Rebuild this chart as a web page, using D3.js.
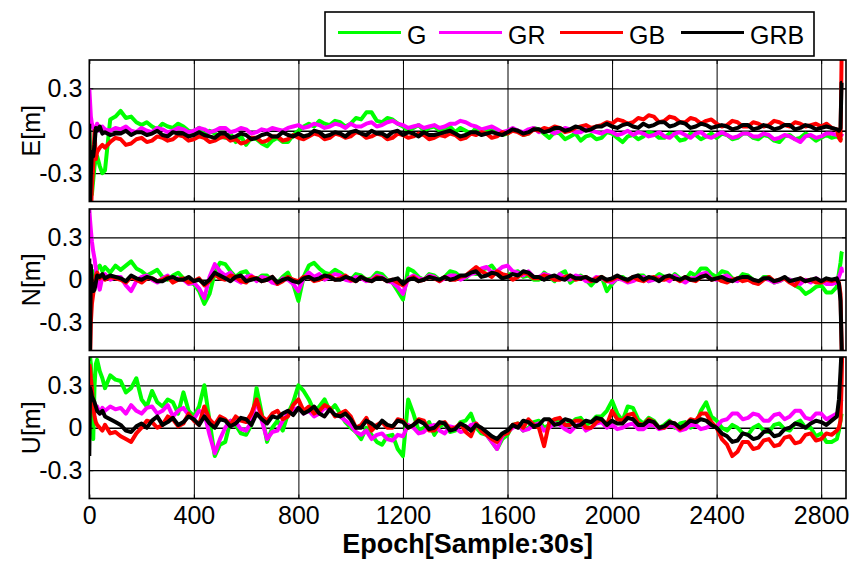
<!DOCTYPE html>
<html>
<head>
<meta charset="utf-8">
<script src="https://cdn.jsdelivr.net/npm/d3@7"></script>
<style>
  body { margin: 0; background: #fff; }
  svg { font-family: Arial, "Liberation Sans", sans-serif; }
</style>
</head>
<body>
<svg id="chart" width="853" height="566"></svg>
<script>
// epoch of every sample (denser at the start / end where it jumps)
const EPOCHS = [0, 3, 6, 10, 15, 20, 25, 30, 40, 50, 60, 80, 100,
  120, 140, 160, 180, 200, 220, 240, 260, 280, 300, 320, 340, 360, 380, 400, 420, 440, 460, 480, 500,
  520, 540, 560, 580, 600, 620, 640, 660, 680, 700, 720, 740, 760, 780, 800, 820, 840, 860, 880, 900,
  920, 940, 960, 980, 1000, 1020, 1040, 1060, 1080, 1100, 1120, 1140, 1160, 1180, 1200, 1220, 1240, 1260, 1280, 1300,
  1320, 1340, 1360, 1380, 1400, 1420, 1440, 1460, 1480, 1500, 1520, 1540, 1560, 1580, 1600, 1620, 1640, 1660, 1680, 1700,
  1720, 1740, 1760, 1780, 1800, 1820, 1840, 1860, 1880, 1900, 1920, 1940, 1960, 1980, 2000, 2020, 2040, 2060, 2080, 2100,
  2120, 2140, 2160, 2180, 2200, 2220, 2240, 2260, 2280, 2300, 2320, 2340, 2360, 2380, 2400, 2420, 2440, 2460, 2480, 2500,
  2520, 2540, 2560, 2580, 2600, 2620, 2640, 2660, 2680, 2700, 2720, 2740, 2760, 2780, 2800, 2820, 2840, 2860,
  2868, 2874, 2878, 2880];

const SERIES = ["G", "GR", "GB", "GRB"];
const COLORS = { G: "#00ff00", GR: "#ff00ff", GB: "#ff0000", GRB: "#000000" };

const X_TICKS = [0, 400, 800, 1200, 1600, 2000, 2400, 2800];
const Y_TICKS = [-0.3, 0, 0.3];
const X_TITLE = "Epoch[Sample:30s]";

// ---- East ----
const E_G = [0.0, -0.2, -0.4, -0.45, -0.35, -0.25, -0.2, -0.18, -0.25, -0.3, -0.28, 0.08, 0.1,
  0.14, 0.09, 0.1, 0.06, 0.04, 0.06, 0.03, 0.01, 0.05, 0.03, 0.02, 0.05, 0.03, 0.0, -0.01, 0.02, -0.03, 0.0, -0.02, -0.04,
  -0.05, -0.02, -0.08, -0.04, -0.1, -0.05, -0.06, -0.09, -0.11, -0.07, -0.05, -0.08, -0.08, -0.03, 0.0, 0.03, 0.05, 0.03, 0.07, 0.05,
  0.04, 0.07, 0.06, 0.03, 0.05, 0.09, 0.08, 0.13, 0.13, 0.07, 0.06, 0.09, 0.08, 0.05, 0.03, 0.0, 0.02, 0.04, 0.0, 0.02,
  0.03, 0.0, 0.01, 0.03, -0.01, 0.02, 0.0, -0.02, 0.02, 0.0, -0.01, 0.02, 0.0, -0.03, -0.02, 0.01, 0.0, -0.03, -0.02, 0.02,
  0.01, -0.02, -0.05, -0.01, -0.02, -0.06, -0.04, -0.02, -0.07, -0.04, -0.03, -0.06, -0.05, -0.01, -0.02, -0.05, -0.08, -0.04, -0.03, -0.06,
  -0.04, -0.01, -0.02, -0.05, -0.05, -0.02, -0.03, -0.07, -0.06, -0.02, -0.03, -0.06, -0.04, -0.02, -0.05, -0.02, -0.03, -0.06, -0.05, -0.02,
  -0.02, -0.05, -0.06, -0.03, -0.04, -0.07, -0.08, -0.04, -0.03, -0.06, -0.05, -0.02, -0.04, -0.07, -0.05, -0.03, -0.05, -0.04,
  -0.05, -0.06, -0.05, -0.05];
const E_GR = [0.3, 0.2, 0.1, 0.05, 0.02, 0.0, 0.02, 0.05, 0.0, 0.03, 0.01, 0.0, 0.02,
  0.01, 0.03, 0.0, -0.01, 0.02, 0.0, -0.01, 0.02, 0.01, -0.01, 0.0, 0.02, 0.01, -0.01, 0.0, 0.02, 0.01, -0.01, 0.0, 0.02,
  0.02, -0.01, 0.0, 0.02, 0.01, -0.02, -0.01, 0.01, 0.0, 0.02, 0.01, 0.0, 0.02, 0.03, 0.04, 0.02, 0.03, 0.05, 0.04, 0.02,
  0.03, 0.05, 0.04, 0.02, 0.05, 0.03, 0.03, 0.05, 0.06, 0.03, 0.04, 0.06, 0.07, 0.05, 0.04, 0.02, 0.03, 0.04, 0.02, 0.03,
  0.04, 0.02, 0.03, 0.05, 0.05, 0.07, 0.06, 0.04, 0.03, 0.01, 0.02, 0.03, 0.01, -0.01, 0.0, 0.02, 0.0, -0.01, 0.01, 0.02,
  -0.01, 0.01, 0.0, -0.02, 0.0, 0.02, 0.01, -0.01, -0.01, 0.01, 0.0, -0.01, -0.02, 0.0, -0.01, -0.03, -0.02, 0.0, -0.03, -0.01,
  -0.02, -0.04, -0.03, -0.01, -0.04, -0.05, -0.02, -0.01, -0.03, -0.05, -0.02, -0.01, -0.04, -0.05, -0.03, -0.01, -0.03, -0.05, -0.04, -0.02,
  -0.02, -0.04, -0.04, -0.02, -0.03, -0.06, -0.05, -0.03, -0.04, -0.06, -0.08, -0.04, -0.03, -0.05, -0.04, -0.02, -0.02, -0.03,
  -0.02, -0.03, -0.03, -0.02];
const E_GB = [-0.1, -0.5, -0.6, -0.4, -0.25, 0.0, -0.2, -0.15, -0.12, -0.1, -0.12, -0.08, -0.05,
  -0.06, -0.1, -0.09, -0.06, -0.05, -0.08, -0.07, -0.04, -0.05, -0.07, -0.06, -0.03, -0.04, -0.07, -0.06, -0.04, -0.05, -0.08, -0.07, -0.05,
  -0.04, -0.07, -0.06, -0.09, -0.08, -0.05, -0.05, -0.08, -0.07, -0.04, -0.04, -0.07, -0.06, -0.03, -0.05, -0.06, -0.04, -0.02, -0.03, -0.06,
  -0.05, -0.02, -0.03, -0.05, -0.04, -0.01, -0.02, -0.05, -0.04, -0.02, -0.03, -0.06, -0.05, -0.02, -0.03, -0.05, -0.04, -0.02, -0.03, -0.06,
  -0.05, -0.03, -0.04, -0.02, -0.03, -0.06, -0.05, -0.02, -0.03, -0.01, -0.02, -0.05, -0.04, -0.01, -0.02, 0.0, -0.01, -0.03, -0.02, 0.01,
  0.0, 0.02, 0.01, 0.03, 0.02, -0.01, 0.0, 0.02, 0.03, 0.04, 0.02, 0.03, 0.04, 0.06, 0.05, 0.08, 0.07, 0.05, 0.06, 0.09,
  0.08, 0.11, 0.1, 0.06, 0.07, 0.1, 0.09, 0.06, 0.06, 0.09, 0.08, 0.05, 0.07, 0.08, 0.05, 0.03, 0.04, 0.07, 0.06, 0.03,
  0.03, 0.06, 0.05, 0.03, 0.04, 0.07, 0.06, 0.04, 0.03, 0.06, 0.05, 0.03, 0.04, 0.05, 0.03, 0.05, 0.02, 0.01,
  -0.05, -0.07, 0.5, 0.6];
const E_GRB = [0.05, -0.5, -0.3, -0.15, -0.18, -0.1, 0.02, 0.0, 0.03, -0.02, -0.01, -0.03, -0.02,
  -0.02, 0.0, -0.03, -0.01, -0.01, -0.03, -0.02, 0.0, -0.03, -0.04, -0.01, -0.02, -0.02, -0.04, -0.03, -0.01, -0.03, -0.04, -0.05, -0.02,
  -0.02, -0.05, -0.04, -0.02, -0.03, -0.06, -0.05, -0.03, -0.02, -0.04, -0.04, -0.01, -0.03, -0.04, -0.02, -0.04, -0.03, 0.0, -0.01, -0.04,
  -0.03, -0.01, -0.02, -0.04, -0.01, 0.0, -0.02, -0.03, 0.0, -0.02, -0.02, -0.04, -0.01, 0.0, -0.03, -0.01, -0.02, -0.04, -0.01, -0.03,
  -0.03, -0.02, -0.01, 0.0, -0.02, -0.04, -0.03, -0.01, -0.01, -0.03, -0.02, -0.01, -0.02, -0.03, -0.01, 0.01, 0.0, -0.02, -0.01, 0.01,
  0.01, -0.01, 0.0, 0.02, 0.02, 0.0, 0.01, 0.03, 0.02, 0.0, 0.01, 0.03, 0.03, 0.05, 0.03, 0.02, 0.04, 0.05, 0.03, 0.02,
  0.05, 0.03, 0.04, 0.06, 0.06, 0.03, 0.04, 0.06, 0.05, 0.02, 0.03, 0.05, 0.04, 0.02, 0.03, 0.04, 0.03, 0.01, 0.02, 0.04,
  0.04, 0.01, 0.02, 0.04, 0.03, 0.01, 0.02, 0.04, 0.04, 0.01, 0.02, 0.04, 0.03, 0.01, 0.02, 0.03, 0.02, 0.01,
  0.0, 0.02, 0.34, 0.34];

// ---- North ----
const N_G = [0.05, -0.05, 0.0, 0.03, 0.06, 0.05, 0.04, 0.08, 0.1, 0.06, 0.09, 0.05, 0.1,
  0.07, 0.1, 0.13, 0.08, 0.06, 0.03, 0.05, 0.07, 0.02, 0.0, 0.03, 0.05, 0.01, -0.02, -0.03, -0.08, -0.17, -0.1, 0.05, 0.12,
  0.11, 0.06, 0.02, 0.05, 0.06, 0.01, 0.0, 0.03, 0.03, -0.01, -0.02, 0.02, 0.05, -0.03, -0.15, 0.02, 0.1, 0.12, 0.08, 0.05,
  0.04, 0.07, 0.05, 0.02, 0.0, 0.04, 0.03, 0.0, 0.01, 0.05, 0.04, 0.0, -0.02, -0.08, -0.14, 0.08, 0.06, 0.02, 0.0, 0.04,
  0.03, 0.0, 0.02, 0.06, 0.05, 0.02, 0.01, 0.05, 0.04, 0.07, 0.08, 0.1, 0.05, 0.02, 0.03, 0.05, 0.06, 0.02, 0.03, 0.0,
  0.0, 0.05, 0.02, -0.01, 0.04, 0.06, -0.02, 0.01, 0.03, 0.0, -0.04, 0.0, 0.02, -0.08, -0.03, 0.01, 0.02, -0.01, 0.0, 0.03,
  0.03, -0.01, 0.01, 0.04, 0.02, 0.0, 0.04, 0.01, 0.0, 0.05, 0.03, 0.08, 0.08, 0.04, 0.02, 0.06, 0.05, 0.01, 0.0, 0.04,
  0.03, 0.0, -0.02, 0.02, 0.02, -0.02, -0.01, 0.01, 0.0, -0.04, -0.06, -0.1, -0.08, -0.05, -0.04, -0.09, -0.09, -0.05,
  0.05, 0.12, 0.19, 0.2];
const N_GR = [0.5, 0.42, 0.35, 0.27, 0.2, 0.15, 0.08, 0.0, -0.07, 0.02, 0.04, 0.0, 0.02,
  0.02, -0.04, -0.08, -0.01, 0.02, 0.03, 0.0, -0.02, 0.01, 0.03, -0.01, 0.01, 0.0, -0.03, -0.02, -0.06, -0.13, 0.02, 0.11, 0.06,
  0.03, 0.05, 0.0, -0.02, 0.02, 0.03, -0.01, 0.02, 0.01, -0.02, -0.03, 0.01, 0.0, -0.03, -0.08, 0.01, 0.05, 0.02, 0.04, 0.0,
  0.02, 0.04, 0.03, 0.0, -0.01, 0.02, 0.01, -0.01, 0.0, 0.03, 0.02, -0.01, -0.02, -0.05, -0.1, 0.01, 0.03, 0.01, 0.0, 0.03,
  0.02, -0.01, 0.01, 0.03, 0.03, 0.0, 0.02, 0.04, 0.05, 0.08, 0.09, 0.05, 0.06, 0.09, 0.1, 0.06, 0.05, 0.03, 0.06, 0.02,
  0.02, 0.04, 0.03, 0.0, 0.04, 0.01, 0.0, 0.03, 0.02, -0.01, -0.01, 0.02, 0.01, -0.01, -0.02, 0.01, 0.0, -0.02, -0.01, 0.01,
  0.02, -0.01, 0.0, 0.02, 0.01, -0.01, 0.03, 0.0, -0.02, 0.01, 0.01, 0.04, 0.05, 0.01, 0.0, 0.02, 0.03, 0.0, -0.01, 0.02,
  0.01, -0.02, -0.02, 0.01, 0.0, -0.02, -0.01, 0.01, 0.0, -0.02, -0.03, 0.0, -0.02, 0.01, -0.01, -0.03, -0.03, -0.02,
  0.02, 0.05, 0.08, 0.05];
const N_GB = [-0.5, -0.55, -0.3, -0.17, -0.1, -0.04, 0.03, 0.05, 0.01, 0.03, 0.0, 0.02, 0.01,
  0.0, -0.02, 0.02, 0.0, -0.02, 0.01, 0.01, -0.01, 0.0, 0.02, -0.02, 0.0, 0.01, -0.02, -0.01, 0.01, -0.04, -0.01, 0.04, 0.01,
  0.0, 0.03, 0.02, -0.01, -0.02, 0.02, 0.01, -0.01, 0.0, 0.02, -0.03, -0.01, 0.02, 0.0, -0.01, 0.02, 0.02, -0.01, 0.0, 0.02,
  0.03, 0.0, 0.01, 0.03, 0.0, -0.01, 0.02, 0.0, -0.01, 0.02, 0.01, -0.01, 0.0, -0.02, -0.04, 0.0, 0.02, -0.01, 0.0, 0.02,
  0.01, -0.01, 0.02, 0.0, 0.0, 0.02, 0.03, 0.06, 0.09, 0.06, 0.04, 0.02, 0.06, 0.04, 0.03, 0.0, 0.02, 0.05, 0.04, 0.01,
  0.01, 0.03, 0.02, 0.0, 0.0, 0.02, 0.03, 0.0, 0.01, 0.02, -0.01, 0.01, 0.02, -0.01, 0.0, 0.02, 0.01, -0.01, 0.02, 0.0,
  -0.01, 0.01, 0.02, 0.0, 0.0, 0.02, 0.01, -0.01, 0.02, 0.0, -0.01, 0.02, 0.03, 0.0, 0.01, -0.01, -0.02, 0.0, 0.01, -0.01,
  0.0, -0.02, -0.03, 0.0, 0.02, -0.01, 0.0, 0.01, -0.02, -0.04, 0.01, -0.01, 0.0, -0.02, -0.02, 0.0, -0.01, 0.0,
  -0.02, -0.1, -0.45, -0.6];
const N_GRB = [0.15, -0.5, 0.1, -0.03, -0.08, -0.07, -0.02, 0.03, 0.02, 0.04, 0.01, 0.03, 0.02,
  0.01, -0.01, 0.03, 0.01, 0.0, 0.02, 0.01, -0.01, -0.01, 0.01, 0.02, 0.0, 0.0, 0.02, -0.01, 0.0, -0.03, 0.0, 0.05, 0.03,
  0.01, -0.01, 0.02, 0.03, -0.01, 0.0, 0.01, -0.01, 0.0, 0.02, -0.02, 0.0, 0.01, -0.01, -0.02, 0.01, 0.02, 0.0, 0.01, 0.03,
  0.02, 0.0, 0.0, 0.02, 0.01, -0.01, 0.02, 0.0, -0.01, 0.01, 0.01, -0.01, 0.0, 0.01, -0.03, 0.0, 0.01, -0.01, 0.0, 0.02,
  0.01, 0.0, 0.02, 0.0, 0.01, 0.03, 0.03, 0.05, 0.06, 0.02, 0.03, 0.05, 0.04, 0.01, 0.02, 0.04, 0.03, 0.06, 0.05, 0.02,
  0.02, 0.0, 0.02, 0.03, 0.01, 0.0, 0.03, 0.01, 0.01, 0.02, 0.0, -0.01, 0.02, 0.0, 0.01, 0.03, 0.01, 0.0, 0.02, 0.03,
  0.0, 0.02, 0.01, -0.01, 0.02, 0.03, 0.01, 0.0, 0.02, 0.0, 0.0, 0.02, 0.03, 0.0, 0.01, 0.02, 0.0, -0.01, 0.01, 0.02,
  0.02, 0.0, -0.01, 0.01, 0.01, -0.01, 0.0, 0.02, -0.01, 0.0, 0.01, -0.01, 0.0, 0.01, -0.01, 0.01, 0.0, 0.01,
  -0.03, -0.15, -0.45, -0.6];

// ---- Up ----
const U_G = [0.3, 0.5, 0.45, 0.2, -0.08, 0.3, 0.45, 0.48, 0.4, 0.35, 0.28, 0.37, 0.34,
  0.33, 0.25, 0.28, 0.35, 0.2, 0.15, 0.26, 0.18, 0.15, 0.2, 0.18, 0.1, 0.25, 0.12, 0.08, 0.15, 0.3, 0.05, -0.2, -0.12,
  -0.1, 0.05, 0.02, -0.04, -0.05, 0.02, 0.28, 0.1, -0.1, 0.0, 0.05, -0.02, 0.1, 0.18, 0.3, 0.26, 0.2, 0.12, 0.15, 0.2,
  0.12, 0.16, 0.1, 0.04, 0.0, -0.03, -0.08, 0.0, -0.05, -0.1, -0.12, -0.06, -0.05, -0.15, -0.2, 0.2, 0.1, -0.02, 0.0, 0.04,
  -0.05, 0.01, 0.03, -0.03, -0.02, 0.04, 0.05, 0.1, 0.0, -0.04, -0.05, -0.1, -0.15, -0.08, -0.05, 0.02, 0.03, -0.02, 0.0, 0.04,
  0.05, 0.0, 0.02, 0.05, 0.06, 0.02, 0.03, 0.06, 0.07, 0.02, 0.04, 0.08, 0.08, 0.12, 0.19, 0.1, 0.05, 0.15, 0.14, 0.06,
  0.03, 0.07, 0.05, 0.0, 0.02, 0.05, 0.0, 0.03, 0.04, 0.0, 0.02, 0.12, 0.18, 0.08, 0.05, 0.0, -0.02, 0.02, 0.0, -0.04,
  -0.05, 0.0, 0.02, -0.02, -0.03, 0.02, 0.03, -0.01, -0.02, 0.03, 0.05, 0.0, 0.0, -0.06, -0.04, -0.1, -0.1, -0.08,
  -0.02, 0.05, 0.1, 0.1];
const U_GR = [0.2, 0.3, 0.25, 0.2, 0.18, 0.15, 0.12, 0.15, 0.1, 0.14, 0.12, 0.15, 0.13,
  0.14, 0.1, 0.16, 0.12, 0.1, 0.14, 0.15, 0.1, 0.12, 0.16, 0.08, 0.12, 0.14, 0.09, 0.06, 0.12, 0.1, -0.05, -0.18, -0.08,
  0.0, 0.05, 0.04, -0.01, -0.02, 0.04, 0.2, 0.05, -0.08, -0.03, -0.02, 0.05, 0.1, 0.13, 0.14, 0.1, 0.12, 0.08, 0.1, 0.14,
  0.13, 0.09, 0.08, 0.05, 0.02, -0.03, -0.05, -0.02, -0.08, -0.05, -0.04, -0.08, -0.09, -0.05, -0.06, 0.02, 0.0, -0.04, -0.03, 0.01,
  0.02, -0.02, -0.04, 0.01, 0.0, -0.03, -0.02, 0.02, 0.03, -0.02, -0.05, -0.1, -0.15, -0.06, -0.03, 0.0, 0.02, -0.02, -0.01, 0.02,
  0.03, -0.02, 0.0, 0.03, 0.02, -0.01, -0.03, 0.01, 0.03, -0.02, 0.0, 0.03, 0.04, 0.0, 0.02, -0.01, 0.0, 0.02, 0.03, -0.01,
  -0.01, 0.02, 0.02, -0.01, 0.0, 0.02, 0.01, -0.02, -0.01, 0.02, 0.02, -0.01, 0.0, 0.02, 0.01, 0.05, 0.06, 0.1, 0.1, 0.06,
  0.07, 0.1, 0.09, 0.05, 0.05, 0.09, 0.1, 0.06, 0.08, 0.12, 0.12, 0.07, 0.06, 0.1, 0.1, 0.06, 0.08, 0.1,
  0.12, 0.18, 0.2, 0.2];
const U_GB = [0.45, 0.42, 0.35, 0.28, 0.15, 0.08, 0.04, 0.02, 0.0, -0.02, 0.02, -0.04, -0.03,
  -0.06, -0.08, -0.1, -0.04, 0.0, 0.05, 0.04, 0.0, 0.02, 0.08, 0.06, 0.01, 0.03, 0.1, 0.05, 0.02, 0.15, 0.06, 0.02, 0.08,
  0.06, 0.02, 0.08, 0.05, 0.04, 0.1, 0.2, 0.08, 0.05, 0.1, 0.12, 0.06, 0.08, 0.16, 0.2, 0.12, 0.15, 0.1, 0.12, 0.16,
  0.14, 0.08, 0.1, 0.12, 0.08, 0.0, 0.02, 0.07, -0.02, 0.02, 0.04, 0.0, 0.0, 0.06, 0.05, 0.0, 0.02, 0.06, 0.05, -0.02,
  -0.02, 0.03, 0.04, -0.01, 0.0, 0.03, -0.03, -0.06, 0.03, -0.02, -0.05, -0.08, -0.1, -0.05, -0.04, 0.02, 0.03, 0.0, 0.06, 0.02,
  0.0, -0.13, 0.04, 0.06, 0.07, 0.02, 0.02, 0.05, 0.05, 0.0, 0.0, 0.04, 0.06, 0.02, 0.12, 0.06, 0.05, 0.09, 0.1, 0.03,
  0.02, 0.06, 0.04, 0.0, 0.0, 0.04, 0.03, -0.01, 0.02, 0.06, 0.05, 0.1, 0.1, 0.04, 0.0, -0.08, -0.12, -0.2, -0.17, -0.1,
  -0.1, -0.15, -0.14, -0.09, -0.08, -0.13, -0.12, -0.07, -0.06, -0.11, -0.1, -0.05, -0.04, -0.09, -0.08, -0.04, -0.05, -0.02,
  0.0, 0.05, 0.3, 0.5];
const U_GRB = [-0.2, 0.28, 0.26, 0.22, 0.2, 0.18, 0.15, 0.12, 0.1, 0.12, 0.08, 0.06, 0.04,
  0.02, -0.02, -0.03, 0.01, 0.03, 0.0, 0.05, 0.08, 0.02, 0.04, 0.07, 0.02, 0.04, 0.08, 0.06, 0.02, 0.08, 0.03, 0.0, 0.06,
  0.05, 0.01, 0.03, 0.07, 0.06, 0.02, 0.1, 0.06, 0.03, 0.08, 0.07, 0.1, 0.12, 0.09, 0.14, 0.1, 0.12, 0.15, 0.1, 0.08,
  0.13, 0.09, 0.08, 0.1, 0.06, 0.0, 0.0, 0.05, 0.03, 0.0, 0.05, 0.02, 0.01, 0.05, 0.04, 0.0, 0.02, 0.05, 0.03, -0.01,
  0.0, 0.04, 0.03, -0.02, -0.01, 0.03, 0.01, -0.02, 0.02, 0.0, -0.03, -0.06, -0.08, -0.04, -0.02, 0.02, 0.0, 0.05, 0.04, 0.01,
  0.02, 0.06, 0.06, 0.02, 0.03, 0.06, 0.05, 0.01, 0.02, 0.05, 0.04, 0.07, 0.06, 0.02, 0.05, 0.03, 0.03, 0.07, 0.06, 0.02,
  0.02, 0.05, 0.04, 0.0, 0.01, 0.04, 0.03, 0.0, 0.02, 0.05, 0.04, 0.06, 0.05, 0.02, 0.0, -0.04, -0.06, -0.1, -0.09, -0.04,
  -0.05, -0.08, -0.07, -0.03, -0.02, -0.06, -0.05, -0.01, 0.0, 0.03, 0.02, 0.0, 0.03, 0.05, 0.04, 0.02, 0.05, 0.08,
  0.2, 0.4, 0.55, 0.6];

const PANELS = [
  { label: "E[m]", top: 60,  data: { G: E_G, GR: E_GR, GB: E_GB, GRB: E_GRB } },
  { label: "N[m]", top: 209, data: { G: N_G, GR: N_GR, GB: N_GB, GRB: N_GRB } },
  { label: "U[m]", top: 357, data: { G: U_G, GR: U_GR, GB: U_GB, GRB: U_GRB } }
];

PANELS.forEach(p => SERIES.forEach(s => {
  if (p.data[s].length !== EPOCHS.length)
    throw new Error(`length mismatch ${p.label} ${s}: ${p.data[s].length} vs ${EPOCHS.length}`);
}));

const svg = d3.select("#chart");
const left = 89.3, right = 846, panelH = 141.5;
const FONT = 25;

const x = d3.scaleLinear().domain([0, 2895]).range([left, right]);

const defs = svg.append("defs");

PANELS.forEach((p, pi) => {
  const top = p.top, bottom = top + panelH;
  const y = d3.scaleLinear().domain([-0.5, 0.5]).range([bottom, top]);
  const g = svg.append("g");

  // grid
  g.append("g")
    .attr("transform", `translate(0,${bottom})`)
    .call(d3.axisBottom(x).tickValues(X_TICKS.slice(1)).tickSize(-panelH).tickFormat(""))
    .call(a => a.select(".domain").remove())
    .call(a => a.selectAll("line").attr("stroke", "#8c8c8c").attr("stroke-width", 1));
  g.append("g")
    .attr("transform", `translate(${left},0)`)
    .call(d3.axisLeft(y).tickValues(Y_TICKS).tickSize(-(right - left)).tickFormat(""))
    .call(a => a.select(".domain").remove())
    .call(a => a.selectAll("line").attr("stroke", "#a8a8a8").attr("stroke-width", 1.3));

  // data lines
  const clipId = "clip" + pi;
  defs.append("clipPath").attr("id", clipId)
    .append("rect").attr("x", left).attr("y", top).attr("width", right - left).attr("height", panelH);

  const line = d3.line()
    .x((d, i) => x(EPOCHS[i]))
    .y(d => y(d));

  g.append("g").attr("clip-path", `url(#${clipId})`)
    .selectAll("path")
    .data(SERIES)
    .join("path")
    .attr("d", s => line(p.data[s]))
    .attr("fill", "none")
    .attr("stroke", s => COLORS[s])
    .attr("stroke-width", 4)
    .attr("stroke-linejoin", "round");

  // inner ticks on all four sides
  const tk = 4;
  g.append("g").attr("transform", `translate(0,${bottom})`)
    .call(d3.axisTop(x).tickValues(X_TICKS).tickSize(tk).tickFormat(""))
    .call(a => a.select(".domain").remove());
  g.append("g").attr("transform", `translate(0,${top})`)
    .call(d3.axisBottom(x).tickValues(X_TICKS).tickSize(tk).tickFormat(""))
    .call(a => a.select(".domain").remove());
  g.append("g").attr("transform", `translate(${right},0)`)
    .call(d3.axisLeft(y).tickValues(Y_TICKS).tickSize(tk).tickFormat(""))
    .call(a => a.select(".domain").remove());

  // y labels
  g.append("g").attr("transform", `translate(${left},0)`)
    .call(d3.axisRight(y).tickValues(Y_TICKS).tickSize(tk).tickFormat(""))
    .call(a => a.select(".domain").remove());
  g.append("g").attr("transform", `translate(${left - 7},0)`)
    .call(d3.axisLeft(y).tickValues(Y_TICKS).tickSize(0).tickPadding(0).tickFormat(d => String(d)))
    .call(a => a.select(".domain").remove())
    .call(a => a.selectAll("text").attr("font-size", FONT).attr("font-family", "Arial, 'Liberation Sans', sans-serif").attr("fill", "#000"));

  g.selectAll(".tick line").attr("stroke", "#000");

  // frame
  g.append("rect")
    .attr("x", left).attr("y", top).attr("width", right - left).attr("height", panelH)
    .attr("fill", "none").attr("stroke", "#000").attr("stroke-width", 1.6);

  g.append("text")
    .attr("transform", `translate(40,${(top + bottom) / 2}) rotate(-90)`)
    .attr("text-anchor", "middle")
    .attr("font-size", FONT)
    .text(p.label);

  if (pi === PANELS.length - 1) {
    g.append("g").attr("transform", `translate(0,${bottom + 8})`)
      .call(d3.axisBottom(x).tickValues(X_TICKS).tickSize(0).tickPadding(0).tickFormat(d => String(d)))
      .call(a => a.select(".domain").remove())
      .call(a => a.selectAll("text").attr("font-size", FONT).attr("font-family", "Arial, 'Liberation Sans', sans-serif").attr("fill", "#000").attr("dy", "0.71em"));
  }
});

// x title
svg.append("text")
  .attr("x", (left + right) / 2)
  .attr("y", 553)
  .attr("text-anchor", "middle")
  .attr("font-size", 27)
  .attr("font-weight", "bold")
  .text(X_TITLE);

// legend
const legend = svg.append("g");
legend.append("rect")
  .attr("x", 325).attr("y", 12).attr("width", 489).attr("height", 44)
  .attr("fill", "#fff").attr("stroke", "#000").attr("stroke-width", 1.6);
const LEG_X = [338, 439, 560, 681];
SERIES.forEach((s, i) => {
  legend.append("line")
    .attr("x1", LEG_X[i]).attr("x2", LEG_X[i] + 63)
    .attr("y1", 32.5).attr("y2", 32.5)
    .attr("stroke", COLORS[s]).attr("stroke-width", 3);
  legend.append("text")
    .attr("x", LEG_X[i] + 69).attr("y", 43.5)
    .attr("font-size", FONT)
    .text(s);
});
</script>
</body>
</html>
